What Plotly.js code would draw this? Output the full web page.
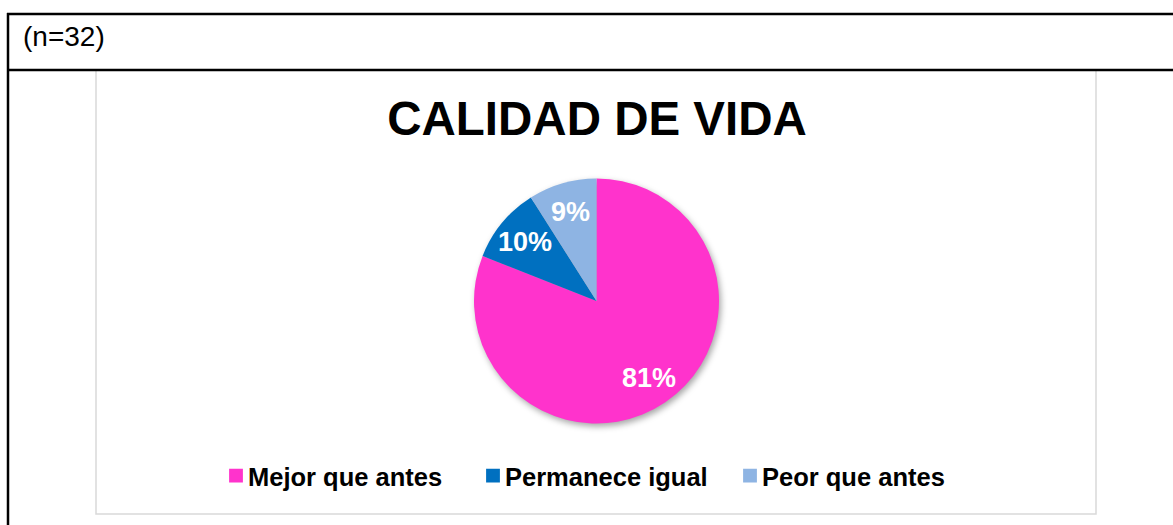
<!DOCTYPE html>
<html>
<head>
<meta charset="utf-8">
<script src="https://cdn.plot.ly/plotly-3.0.1.min.js"></script>
<style>
  html, body { margin: 0; padding: 0; background: #ffffff; }
  #chart { width: 1173px; height: 525px; }
  .pielayer { filter: drop-shadow(2px 3px 3px rgba(0,0,0,0.35)); }
  .legendtext { transform: translate(-8px, 0px); }
  .legendpie { transform: translate(20px, 0px) scale(1.15); }
</style>
</head>
<body>
<div id="chart"></div>
<script>
const categories = ["Mejor que antes", "Permanece igual", "Peor que antes"];
const percentages = [81, 10, 9];
const sliceColors = ["#FF33CC", "#0070C0", "#8EB4E3"];
const chartTitle = "CALIDAD DE VIDA";
const sampleNote = "(n=32)";

const W = 1173, H = 525;
const px = x => x / W;
const py = y => 1 - y / H;

// pie placement (pixels)
const pieCx = 596.5, pieCy = 301, pieR = 122.5;
const labelRadiusFrac = 0.76;

const trace = {
  type: "pie",
  labels: categories,
  values: percentages,
  sort: false,
  direction: "clockwise",
  rotation: 0,
  marker: { colors: sliceColors, line: { width: 0 } },
  textinfo: "none",
  hoverinfo: "label+percent",
  domain: { x: [px(pieCx - pieR), px(pieCx + pieR)], y: [py(pieCy + pieR), py(pieCy - pieR)] }
};

// data labels placed at the angular middle of each slice
const total = percentages.reduce((a, b) => a + b, 0);
let cum = 0;
const labelAnnotations = percentages.map(v => {
  const mid = (cum + v / 2) / total;
  cum += v;
  const th = mid * 2 * Math.PI;
  const x = pieCx + pieR * labelRadiusFrac * Math.sin(th);
  const y = pieCy - pieR * labelRadiusFrac * Math.cos(th);
  return {
    text: v + "%", xref: "paper", yref: "paper",
    x: px(x), y: py(y), xanchor: "center", yanchor: "middle",
    showarrow: false,
    font: { family: "Liberation Sans, Arial, sans-serif", size: 27, color: "#ffffff", weight: "bold" }
  };
});

const line = (x0, y0, x1, y1, color, width) => ({
  type: "line", xref: "paper", yref: "paper",
  x0: px(x0), y0: py(y0), x1: px(x1), y1: py(y1),
  line: { color: color, width: width }
});

const layout = {
  width: W, height: H,
  margin: { l: 0, r: 0, t: 0, b: 0 },
  paper_bgcolor: "#ffffff",
  plot_bgcolor: "#ffffff",
  title: {
    text: chartTitle,
    x: px(597), xanchor: "center",
    y: py(118), yanchor: "middle",
    font: { family: "Liberation Sans, Arial, sans-serif", size: 47.5, color: "#000000", weight: "bold" }
  },
  showlegend: true,
  legend: {
    orientation: "h",
    x: px(216), xanchor: "left",
    y: py(476), yanchor: "middle",
    entrywidth: 212,
    font: { family: "Liberation Sans, Arial, sans-serif", size: 25.5, color: "#000000", weight: "bold" },
    bgcolor: "rgba(0,0,0,0)"
  },
  shapes: [
    { type: "rect", xref: "paper", yref: "paper",
      x0: px(96), x1: px(1096), y0: py(514), y1: py(70),
      line: { color: "#D9D9D9", width: 1.5 }, fillcolor: "rgba(0,0,0,0)", layer: "below" },
    line(7, 14, 1173, 14, "#000000", 2.5),
    line(7, 70, 1173, 70, "#000000", 2.5),
    line(8, 13, 8, 525, "#000000", 2.5)
  ],
  annotations: [
    { text: sampleNote, xref: "paper", yref: "paper",
      x: px(21), xanchor: "left", y: py(36), yanchor: "middle",
      showarrow: false,
      font: { family: "Liberation Sans, Arial, sans-serif", size: 28, color: "#000000" } }
  ].concat(labelAnnotations)
};

Plotly.newPlot("chart", [trace], layout, { displayModeBar: false, staticPlot: true });
</script>
</body>
</html>
